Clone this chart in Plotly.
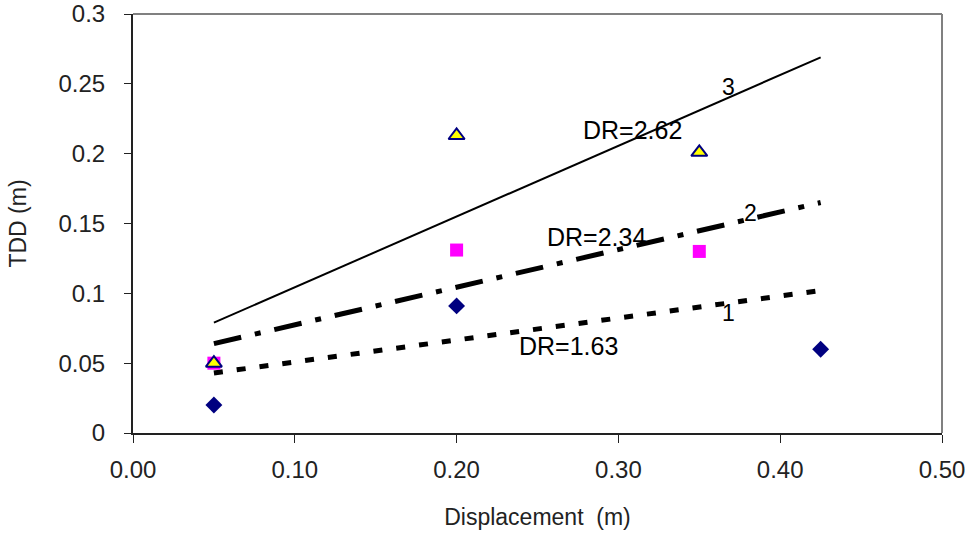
import plotly.graph_objects as go

# Measured points
dr163_x = [0.05, 0.20, 0.425]
dr163_y = [0.020, 0.091, 0.060]
dr234_x = [0.05, 0.20, 0.35]
dr234_y = [0.050, 0.131, 0.130]
dr262_x = [0.05, 0.20, 0.35]
dr262_y = [0.050, 0.213, 0.201]

# Trend lines
trend_x = [0.05, 0.425]
trend1_y = [0.043, 0.102]
trend2_y = [0.064, 0.165]
trend3_y = [0.079, 0.269]

x_ticks = [0.0, 0.1, 0.2, 0.3, 0.4, 0.5]
y_ticks = [0, 0.05, 0.1, 0.15, 0.2, 0.25, 0.3]
y_tick_text = ["0", "0.05", "0.1", "0.15", "0.2", "0.25", "0.3"]

FONT = "Liberation Sans, Arial, sans-serif"

L, R, T, B = 133, 28, 14, 102
W, H = 970 - L - R, 535 - T - B

fig = go.Figure()

fig.add_trace(go.Scatter(x=trend_x, y=trend3_y, mode="lines",
                         line=dict(color="black", width=2), showlegend=False))
fig.add_trace(go.Scatter(x=trend_x, y=trend2_y, mode="lines",
                         line=dict(color="black", width=5, dash="28px,14px,6px,14px"),
                         showlegend=False))
fig.add_trace(go.Scatter(x=trend_x, y=trend1_y, mode="lines",
                         line=dict(color="black", width=5, dash="9px,14px"),
                         showlegend=False))

fig.add_trace(go.Scatter(x=dr163_x, y=dr163_y, mode="markers",
                         marker=dict(symbol="diamond", size=13, color="#000080",
                                     line=dict(width=0)), showlegend=False))
fig.add_trace(go.Scatter(x=dr234_x, y=dr234_y, mode="markers",
                         marker=dict(symbol="square", size=13, color="#FF00FF",
                                     line=dict(width=0)), showlegend=False))
fig.add_trace(go.Scatter(x=dr262_x, y=dr262_y, mode="markers",
                         marker=dict(symbol="triangle-up", size=14, color="#FFFF00",
                                     line=dict(width=2, color="#000080")), showlegend=False))

labels = [
    ("3", 728, 87), ("DR=2.62", 632, 130),
    ("2", 750, 213), ("DR=2.34", 596, 237),
    ("1", 728, 313), ("DR=1.63", 568, 346),
]
for txt, px, py in labels:
    fig.add_annotation(x=(px - L) / W, y=1 - (py - T) / H, xref="paper", yref="paper",
                       text=txt, showarrow=False, xanchor="center", yanchor="middle",
                       font=dict(family=FONT, size=25 if txt.startswith("DR") else 23,
                                 color="black"))

# grey top and right frame
fig.add_shape(type="line", xref="paper", yref="paper", x0=0, x1=1, y0=1, y1=1,
              line=dict(color="#808080", width=2))
fig.add_shape(type="line", xref="paper", yref="paper", x0=1, x1=1, y0=0, y1=1,
              line=dict(color="#808080", width=2))

fig.update_layout(
    width=970, height=535,
    margin=dict(l=L, r=R, t=T, b=B, autoexpand=False),
    paper_bgcolor="white", plot_bgcolor="white",
    font=dict(family=FONT, color="#222222"),
    xaxis=dict(range=[0, 0.5], tickvals=x_ticks, tickformat=".2f", automargin=False,
               showgrid=False, zeroline=False, showline=True, linecolor="#222222",
               linewidth=2, ticks="outside", ticklen=8, tickcolor="#222222",
               tickfont=dict(size=24, family=FONT), ticklabelstandoff=6,
               title=dict(text="Displacement  (m)", font=dict(size=23, family=FONT),
                          standoff=27)),
    yaxis=dict(range=[0, 0.3], tickvals=y_ticks, ticktext=y_tick_text, automargin=False,
               showgrid=False, zeroline=False, showline=True, linecolor="#222222",
               linewidth=2, ticks="outside", ticklen=7, tickcolor="#222222",
               tickfont=dict(size=24, family=FONT), ticklabelstandoff=14,
               title=dict(text="TDD (m)", font=dict(size=23, family=FONT),
                          standoff=25)),
)

fig.write_html("out.html")
